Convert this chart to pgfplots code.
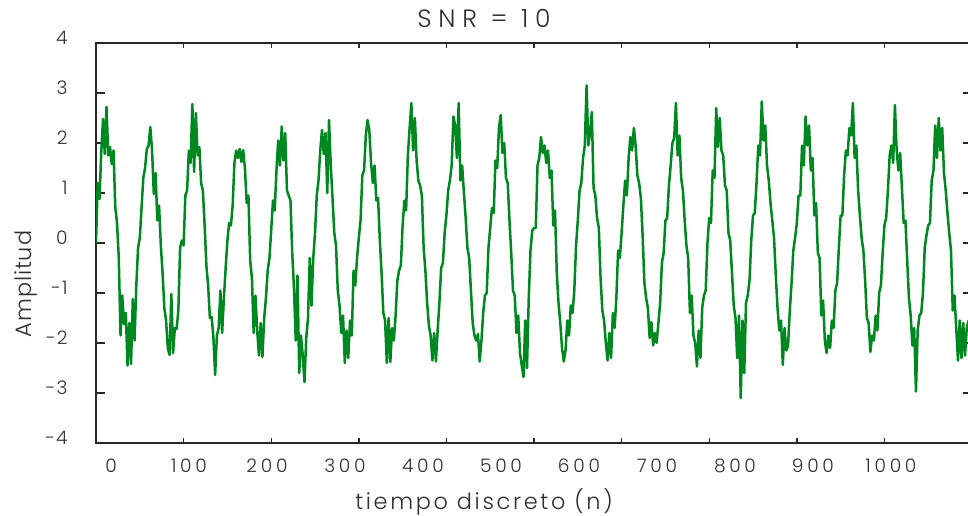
\documentclass[border=0pt]{standalone}
\usepackage{pgfplots}
\pgfplotsset{compat=1.18}
\usepackage{fontspec}
\IfFontExistsTF{Poppins Light}{\setmainfont{Poppins Light}}{\setmainfont{Poppins}}
\definecolor{sig}{RGB}{0,136,32}
\definecolor{txt}{RGB}{45,45,45}
\definecolor{ax}{RGB}{40,40,40}
\begin{document}
\begin{tikzpicture}
\path[use as bounding box] (-48pt,-36pt) rectangle (436pt,221.5pt);
\begin{axis}[
  at={(0pt,0pt)}, anchor=south west,
  scale only axis, width=438pt, height=200pt,
  xmin=0, xmax=1000, ymin=-4, ymax=4,
  xtick={0,100,...,1000}, xticklabels={},
  ytick={-4,-3,...,4},
  yticklabels={-4,-3,-2,-1,0,1,2,3,4},
  yticklabel style={anchor=east, inner sep=0pt, xshift=-14pt, yshift=2.5pt, font=\fontsize{9.3}{10}\selectfont\addfontfeatures{LetterSpace=6}, text=txt},
  tick align=inside,
  major tick length=4.5pt,
  xtick style={/pgfplots/major tick length=2.5pt},
  axis line style={draw=ax, line width=0.8pt},
  tick style={draw=ax, line width=0.7pt},
  clip=true,
]
\addplot[sig, line width=1.25pt, line join=round] coordinates {
(0,0.00)(2,1.20)(4,0.88)(6,1.82)(8,2.48)(10,1.78)(12,2.72)(14,1.75)(16,1.92)(18,1.58)(20,1.85)(22,0.72)(24,0.40)(26,-0.30)(28,-1.85)(30,-1.05)(32,-1.62)(34,-1.40)(36,-2.45)(38,-1.60)(40,-2.42)(42,-1.12)(44,-1.95)(46,-0.85)(48,-0.10)
(50,0.10)(52,0.70)(54,1.30)(56,1.50)(58,1.88)(60,1.95)(62,2.32)(64,1.85)(66,0.98)(68,1.40)(70,0.45)(72,0.75)(74,-0.05)(76,-0.60)(78,-1.30)(80,-1.55)(82,-2.10)(84,-2.24)(86,-1.02)(88,-2.20)(90,-1.70)(92,-1.72)(94,-1.35)(96,-0.10)(98,0.05)
(100,-0.05)(102,0.95)(104,1.05)(106,1.85)(108,1.60)(110,2.78)(112,1.42)(114,2.60)(116,1.75)(118,1.92)(120,1.20)(122,1.05)(124,0.35)(126,-0.45)(128,-0.85)(130,-1.50)(132,-1.48)(134,-1.88)(136,-2.64)(138,-1.85)(140,-1.70)(142,-0.95)(144,-1.80)(146,-1.10)(148,-0.50)
(150,0.05)(152,0.40)(154,0.35)(156,0.75)(158,1.60)(160,1.85)(162,1.70)(164,1.88)(166,1.62)(168,1.86)(170,1.50)(172,0.80)(174,0.95)(176,-0.35)(178,-0.70)(180,-1.80)(182,-1.05)(184,-1.75)(186,-2.25)(188,-1.60)(190,-2.28)(192,-1.50)(194,-1.10)(196,-0.55)(198,-0.30)
(200,0.25)(202,0.85)(204,0.65)(206,1.45)(208,2.05)(210,1.55)(212,2.33)(214,1.65)(216,2.20)(218,1.05)(220,0.95)(222,0.85)(224,-0.20)(226,-0.90)(228,-1.95)(230,-0.65)(232,-2.60)(234,-1.85)(236,-2.25)(238,-2.78)(240,-1.90)(242,-1.50)(244,-0.30)(246,-1.25)(248,-0.30)
(250,0.20)(252,0.95)(254,1.25)(256,1.85)(258,2.26)(260,1.78)(262,2.20)(264,1.00)(266,2.46)(268,1.55)(270,0.90)(272,0.20)(274,-0.05)(276,-0.95)(278,-1.25)(280,-1.80)(282,-1.45)(284,-2.40)(286,-1.75)(288,-2.30)(290,-1.55)(292,-1.85)(294,-0.55)(296,-0.85)(298,-0.30)
(300,0.10)(302,0.45)(304,1.35)(306,1.45)(308,2.15)(310,2.46)(312,2.25)(314,1.60)(316,1.20)(318,1.55)(320,0.85)(322,0.90)(324,0.05)(326,-0.60)(328,-1.40)(330,-1.55)(332,-2.40)(334,-1.50)(336,-2.38)(338,-1.70)(340,-1.95)(342,-1.45)(344,-0.75)(346,-0.55)(348,-0.45)
(350,0.35)(352,0.85)(354,0.65)(356,1.75)(358,2.30)(360,2.80)(362,1.85)(364,2.50)(366,1.65)(368,1.25)(370,1.15)(372,0.95)(374,-0.10)(376,-0.55)(378,-1.20)(380,-1.65)(382,-1.85)(384,-2.35)(386,-1.80)(388,-2.37)(390,-1.75)(392,-1.20)(394,-0.50)(396,-0.40)(398,0.20)
(400,0.55)(402,1.05)(404,1.25)(406,1.55)(408,2.53)(410,2.35)(412,1.70)(414,2.80)(416,1.25)(418,1.55)(420,1.00)(422,0.50)(424,-0.10)(426,-0.30)(428,-0.95)(430,-1.60)(432,-1.85)(434,-1.95)(436,-1.82)(438,-2.37)(440,-1.95)(442,-1.40)(444,-1.05)(446,-1.00)(448,-0.10)
(450,0.30)(452,0.70)(454,0.60)(456,1.65)(458,1.50)(460,2.30)(462,2.56)(464,1.80)(466,2.00)(468,1.30)(470,1.20)(472,0.45)(474,-0.20)(476,-0.95)(478,-1.05)(480,-1.80)(482,-1.45)(484,-2.20)(486,-2.45)(488,-2.68)(490,-1.55)(492,-2.50)(494,-1.10)(496,-0.15)(498,0.25)
(500,0.30)(502,0.30)(504,1.55)(506,1.70)(508,2.12)(510,1.80)(512,1.95)(514,1.60)(516,1.85)(518,1.30)(520,1.45)(522,0.35)(524,0.65)(526,-0.60)(528,-1.20)(530,-1.60)(532,-2.10)(534,-2.37)(536,-2.15)(538,-1.55)(540,-1.85)(542,-1.25)(544,-1.40)(546,-0.95)(548,-0.05)
(550,0.45)(552,1.05)(554,1.20)(556,1.70)(558,1.95)(560,3.15)(562,1.95)(564,2.20)(566,2.62)(568,1.10)(570,0.95)(572,0.50)(574,0.30)(576,-0.70)(578,-1.35)(580,-1.55)(582,-2.00)(584,-2.35)(586,-1.80)(588,-2.30)(590,-1.40)(592,-1.70)(594,-1.10)(596,-0.15)(598,-0.30)
(600,0.20)(602,0.75)(604,1.25)(606,0.95)(608,1.70)(610,2.12)(612,1.85)(614,2.30)(616,1.95)(618,1.35)(620,1.20)(622,0.90)(624,0.15)(626,-0.80)(628,-1.10)(630,-1.30)(632,-1.90)(634,-1.58)(636,-2.05)(638,-1.80)(640,-2.00)(642,-1.60)(644,-1.20)(646,-0.40)(648,-0.20)
(650,0.45)(652,0.50)(654,1.15)(656,1.55)(658,2.00)(660,2.10)(662,2.80)(664,1.75)(666,2.15)(668,1.30)(670,1.05)(672,0.45)(674,-0.05)(676,-0.30)(678,-1.40)(680,-1.05)(682,-1.85)(684,-2.00)(686,-2.47)(688,-1.75)(690,-2.30)(692,-1.30)(694,-1.05)(696,-0.95)(698,0.00)
(700,0.50)(702,0.40)(704,1.45)(706,1.30)(708,2.70)(710,1.92)(712,2.50)(714,1.85)(716,1.75)(718,1.15)(720,1.05)(722,0.20)(724,0.05)(726,-0.60)(728,-1.25)(730,-1.50)(732,-2.30)(734,-1.45)(736,-3.10)(738,-1.55)(740,-2.60)(742,-1.20)(744,-1.05)(746,-0.75)(748,0.05)
(750,0.55)(752,0.60)(754,1.20)(756,1.95)(758,1.75)(760,2.83)(762,2.05)(764,2.35)(766,1.55)(768,1.25)(770,0.80)(772,0.45)(774,0.10)(776,-0.65)(778,-1.30)(780,-1.75)(782,-1.55)(784,-2.44)(786,-1.70)(788,-2.15)(790,-2.05)(792,-1.35)(794,-0.80)(796,-0.15)(798,0.10)
(800,0.40)(802,0.95)(804,0.95)(806,1.95)(808,1.55)(810,2.53)(812,1.95)(814,2.35)(816,1.45)(818,1.70)(820,0.55)(822,0.80)(824,-0.20)(826,-0.30)(828,-1.45)(830,-1.15)(832,-1.95)(834,-2.20)(836,-1.85)(838,-2.10)(840,-1.55)(842,-1.70)(844,-0.95)(846,-0.80)(848,-0.10)
(850,0.55)(852,0.55)(854,1.35)(856,1.85)(858,1.75)(860,2.30)(862,2.15)(864,2.80)(866,1.70)(868,1.95)(870,1.05)(872,0.55)(874,0.10)(876,-0.15)(878,-0.75)(880,-1.50)(882,-1.60)(884,-2.18)(886,-1.85)(888,-1.95)(890,-1.45)(892,-1.75)(894,-1.00)(896,-0.85)(898,-0.20)
(900,0.35)(902,0.50)(904,1.05)(906,1.75)(908,1.95)(910,1.60)(912,2.76)(914,1.85)(916,1.45)(918,1.80)(920,1.10)(922,0.40)(924,0.45)(926,-0.35)(928,-1.10)(930,-1.45)(932,-2.05)(934,-1.70)(936,-2.97)(938,-1.75)(940,-1.45)(942,-1.40)(944,-1.00)(946,-0.10)(948,0.15)
(950,0.35)(952,0.40)(954,1.25)(956,1.45)(958,2.35)(960,1.70)(962,2.50)(964,1.85)(966,2.30)(968,1.40)(970,1.05)(972,0.60)(974,0.20)(976,-0.15)(978,-1.35)(980,-1.05)(982,-1.70)(984,-2.35)(986,-1.55)(988,-2.30)(990,-1.60)(992,-2.25)(994,-1.70)(996,-1.55)
};
\end{axis}
\begin{axis}[
  at={(0pt,0pt)}, anchor=south west,
  scale only axis, width=438pt, height=200pt,
  xmin=-19.23, xmax=1103.9, ymin=0, ymax=1,
  axis line style={draw=none},
  major tick length=0pt,
  ytick=\empty,
  xtick={0,100,...,1000},
  xticklabels={0,100,200,300,400,500,600,700,800,900,1000},
  xticklabel style={anchor=base, inner sep=0pt, yshift=-14.8pt, font=\fontsize{9.3}{10}\selectfont\addfontfeatures{LetterSpace=20}, text=txt},
]
\addplot[draw=none] coordinates {(0,0.5)};
\end{axis}
\node[anchor=base, inner sep=0pt, text=txt, font=\fontsize{12.5}{14}\selectfont\addfontfeatures{LetterSpace=27}] at (194pt,207.85pt) {SNR = 10};
\node[anchor=base, inner sep=0pt, text=txt, font=\fontsize{11.2}{13}\selectfont\addfontfeatures{LetterSpace=12}] at (194pt,-33.2pt) {tiempo discreto (n)};
\node[anchor=base, inner sep=0pt, rotate=90, text=txt, font=\fontsize{11.2}{13}\selectfont\addfontfeatures{LetterSpace=4}] at (-32pt,79.5pt) {Amplitud};
\end{tikzpicture}
\end{document}
